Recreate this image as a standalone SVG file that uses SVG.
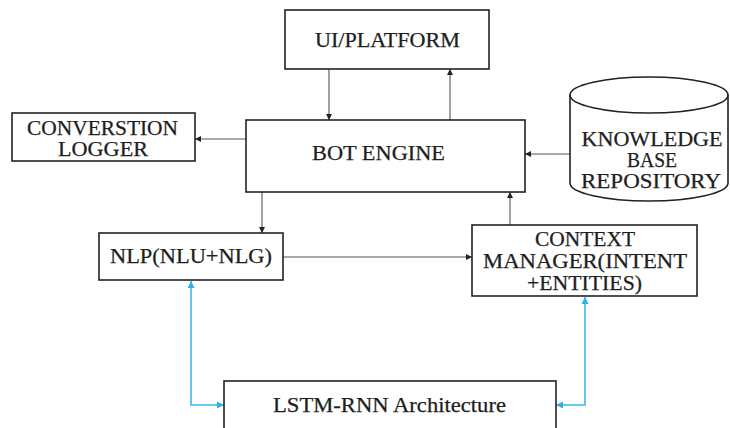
<svg xmlns="http://www.w3.org/2000/svg" width="730" height="428" viewBox="0 0 730 428">
  <style>
    .box { fill: #ffffff; stroke: #222222; stroke-width: 1.6; }
    .lbl { font-family: 'Liberation Serif', 'DejaVu Serif', 'Times New Roman', serif; font-size: 20px; fill: #1e1e1e; stroke: #1e1e1e; stroke-width: 0.25; text-anchor: middle; }
    .link { fill: none; stroke: #555555; stroke-width: 1.1; }
    .ml { fill: none; stroke: #3db8ea; stroke-width: 1.6; }
  </style>
  <defs>
    <marker id="arr" viewBox="0 0 10 10" refX="10" refY="5" markerWidth="7" markerHeight="6" markerUnits="userSpaceOnUse" orient="auto-start-reverse">
      <path d="M0,0 L10,5 L0,10 Z" fill="#222222"/>
    </marker>
    <marker id="arrBlue" viewBox="0 0 10 10" refX="10" refY="5" markerWidth="8" markerHeight="7" markerUnits="userSpaceOnUse" orient="auto-start-reverse">
      <path d="M0,0 L10,5 L0,10 Z" fill="#2fb0e6"/>
    </marker>
  </defs>
  <rect width="730" height="428" fill="#ffffff"/>

  <g id="connectors">
    <line class="link" x1="329" y1="69" x2="329" y2="120" marker-end="url(#arr)"/>
    <line class="link" x1="450" y1="120" x2="450" y2="69" marker-end="url(#arr)"/>
    <line class="link" x1="246" y1="139" x2="195" y2="139" marker-end="url(#arr)"/>
    <line class="link" x1="570" y1="154" x2="525" y2="154" marker-end="url(#arr)"/>
    <line class="link" x1="262" y1="192" x2="262" y2="233" marker-end="url(#arr)"/>
    <line class="link" x1="283" y1="257" x2="472" y2="257" marker-end="url(#arr)"/>
    <line class="link" x1="510" y1="225" x2="510" y2="192" marker-end="url(#arr)"/>
    <path class="ml" d="M191,281 V405 H224" marker-start="url(#arrBlue)" marker-end="url(#arrBlue)"/>
    <path class="ml" d="M585,297 V405 H556" marker-start="url(#arrBlue)" marker-end="url(#arrBlue)"/>
  </g>

  <g id="ui-platform">
    <rect class="box" x="285" y="10" width="204" height="59"/>
    <text class="lbl" x="387.5" y="47" textLength="145" lengthAdjust="spacingAndGlyphs">UI/PLATFORM</text>
  </g>

  <g id="conversation-logger">
    <rect class="box" x="12" y="113" width="183" height="48"/>
    <text class="lbl" x="102.5" y="135" textLength="151" lengthAdjust="spacingAndGlyphs">CONVERSTION</text>
    <text class="lbl" x="103" y="156" textLength="90" lengthAdjust="spacingAndGlyphs">LOGGER</text>
  </g>

  <g id="bot-engine">
    <rect class="box" x="246" y="120" width="279" height="72"/>
    <text class="lbl" x="378.5" y="160" textLength="133" lengthAdjust="spacingAndGlyphs">BOT ENGINE</text>
  </g>

  <g id="knowledge-base">
    <path class="box" d="M570,95 V183 A79,18 0 0 0 728,183 V95 A79,18 0 0 0 570,95 Z"/>
    <path fill="none" stroke="#222222" stroke-width="1.6" d="M570,95 A79,18 0 0 0 728,95"/>
    <text class="lbl" x="652" y="146" textLength="141" lengthAdjust="spacingAndGlyphs">KNOWLEDGE</text>
    <text class="lbl" x="652" y="167" textLength="50" lengthAdjust="spacingAndGlyphs">BASE</text>
    <text class="lbl" x="651" y="188" textLength="140" lengthAdjust="spacingAndGlyphs">REPOSITORY</text>
  </g>

  <g id="nlp">
    <rect class="box" x="99" y="233" width="184" height="47"/>
    <text class="lbl" x="191" y="263" textLength="162" lengthAdjust="spacingAndGlyphs">NLP(NLU+NLG)</text>
  </g>

  <g id="context-manager">
    <rect class="box" x="472" y="225" width="225" height="71"/>
    <text class="lbl" x="585" y="246" textLength="100" lengthAdjust="spacingAndGlyphs">CONTEXT</text>
    <text class="lbl" x="585" y="268" textLength="204" lengthAdjust="spacingAndGlyphs">MANAGER(INTENT</text>
    <text class="lbl" x="584.5" y="290" textLength="115" lengthAdjust="spacingAndGlyphs">+ENTITIES)</text>
  </g>

  <g id="lstm-rnn">
    <rect class="box" x="224" y="381" width="332" height="60"/>
    <text class="lbl" x="389.5" y="412" textLength="233" lengthAdjust="spacingAndGlyphs">LSTM-RNN Architecture</text>
  </g>
</svg>
